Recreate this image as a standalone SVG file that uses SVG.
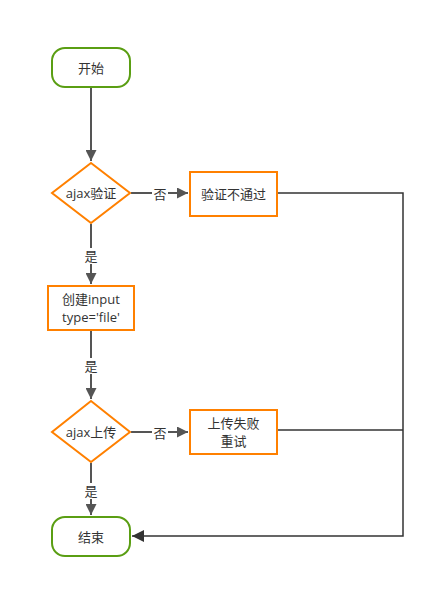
<svg xmlns="http://www.w3.org/2000/svg" width="435" height="589" viewBox="0 0 435 589">
<defs>
<style>
.term{fill:#fff;stroke:#5a9e13;stroke-width:2}
.proc{fill:#fff;stroke:#ff8000;stroke-width:2}
.t{font-family:"Open Sans","Noto Sans CJK SC",sans-serif;font-size:13px;fill:#333;text-anchor:middle;dominant-baseline:central}
.c{fill:none;stroke:#555;stroke-width:2}
.c2{fill:none;stroke:#333;stroke-width:1.5}
.lb{font-family:"Open Sans","Noto Sans CJK SC",sans-serif;font-size:13px;fill:#333;text-anchor:middle;dominant-baseline:central}
.lbg{fill:#fff}
</style>
<marker id="ah" viewBox="0 0 10 10" refX="10" refY="5" markerWidth="5.5" markerHeight="5.5" orient="auto" markerUnits="strokeWidth"><path d="M0,0 L10,5 L0,10 z" fill="#555"/></marker>
<marker id="ah2" viewBox="0 0 10 10" refX="10" refY="5" markerWidth="10" markerHeight="8" orient="auto" markerUnits="strokeWidth"><path d="M0,0 L10,5 L0,10 z" fill="#333"/></marker>
</defs>
<g id="connectors">
<path class="c" d="M91,88 V161" marker-end="url(#ah)"/>
<path class="c" d="M131,193 H188" marker-end="url(#ah)"/>
<path class="c" d="M91,224 V284" marker-end="url(#ah)"/>
<path class="c" d="M91,331 V399" marker-end="url(#ah)"/>
<path class="c" d="M131,432 H188" marker-end="url(#ah)"/>
<path class="c" d="M91,463 V515" marker-end="url(#ah)"/>
<path class="c2" d="M278,193 H403 V536 H132" marker-end="url(#ah2)"/>
<path class="c2" d="M278,430 H403"/>
<rect class="lbg" x="152" y="186" width="16" height="16"/>
<text class="lb" x="160" y="194">否</text>
<rect class="lbg" x="83" y="248" width="16" height="16"/>
<text class="lb" x="91" y="256">是</text>
<rect class="lbg" x="83" y="358" width="16" height="16"/>
<text class="lb" x="91" y="366">是</text>
<rect class="lbg" x="152" y="425" width="16" height="16"/>
<text class="lb" x="160" y="433">否</text>
<rect class="lbg" x="83" y="483" width="16" height="16"/>
<text class="lb" x="91" y="491">是</text>
</g>
<g id="start">
<rect class="term" x="52" y="48" width="78" height="39" rx="13"/>
<text class="t" x="91" y="68">开始</text>
</g>
<g id="ajax-verify">
<path class="proc" d="M91,163 L130,193 L91,223 L52,193 z"/>
<text class="t" x="91" y="193">ajax验证</text>
</g>
<g id="verify-fail">
<rect class="proc" x="190" y="172" width="87" height="44"/>
<text class="t" x="233.5" y="194">验证不通过</text>
</g>
<g id="create-input">
<rect class="proc" x="48" y="286" width="86" height="44"/>
<text class="t" x="91" y="299">创建input</text>
<text class="t" x="91" y="317">type='file'</text>
</g>
<g id="ajax-upload">
<path class="proc" d="M91,401 L130,432 L91,462 L52,432 z"/>
<text class="t" x="91" y="432">ajax上传</text>
</g>
<g id="upload-fail">
<rect class="proc" x="190" y="410" width="87" height="44"/>
<text class="t" x="233.5" y="423">上传失败</text>
<text class="t" x="233.5" y="441">重试</text>
</g>
<g id="end">
<rect class="term" x="52" y="517" width="78" height="39" rx="13"/>
<text class="t" x="91" y="537">结束</text>
</g>
</svg>
